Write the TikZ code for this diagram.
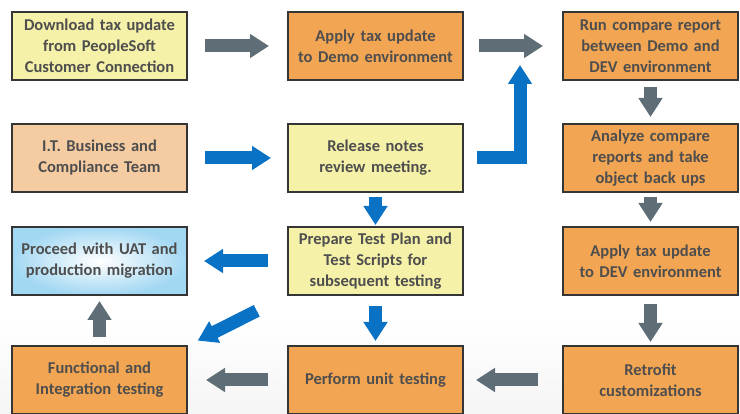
\documentclass[tikz,border=0pt]{standalone}
\usepackage{fontspec}
\setmainfont{Carlito}
\usetikzlibrary{positioning,arrows.meta,calc}

\definecolor{boxline}{HTML}{353535}
\definecolor{txtgray}{HTML}{4E4E4E}
\definecolor{paleyellow}{HTML}{F5F1A8}
\definecolor{taskorange}{HTML}{F2A552}
\definecolor{peach}{HTML}{F5CBA1}
\definecolor{skyblue}{HTML}{A3D8F3}
\definecolor{arrowgray}{HTML}{5F6E76}
\definecolor{arrowblue}{HTML}{0A72C5}

\tikzset{
  box/.style={draw=boxline, line width=1.6pt, outer sep=0pt, inner sep=0pt,
    minimum width=175pt, minimum height=68pt, text width=170pt, align=center,
    text=txtgray, font=\bfseries\fontsize{16.5}{21}\selectfont},
  grayarrow/.style={draw=arrowgray, line width=13pt, -{Triangle[length=19pt,width=23pt]}},
  bluearrow/.style={draw=arrowblue, line width=13pt, -{Triangle[length=19pt,width=23pt]}},
}

\begin{document}
\begin{tikzpicture}
\useasboundingbox (0,0) rectangle (740pt,-414pt);
% faint grey at the foot
\fill[top color=white, bottom color=gray!8] (0,-320pt) rectangle (740pt,-414pt);

\node (download) [box, fill=paleyellow] at (99.5pt,-46pt) {Download tax update\\from PeopleSoft\\Customer Connection};
\node (applydemo) [box, fill=taskorange, right=101pt of download] {Apply tax update\\to Demo environment};
\node (runcompare) [box, fill=taskorange, right=100pt of applydemo] {Run compare report\\between Demo and\\DEV environment};

\node (itteam) [box, fill=peach, below=44pt of download] {I.T. Business and\\Compliance Team};
\node (release) [box, fill=paleyellow, below=44pt of applydemo] {Release notes\\review meeting.};
\node (analyze) [box, fill=taskorange, below=44pt of runcompare] {Analyze compare\\reports and take\\object back ups};

\node (proceed) [box, inner color=white, outer color=skyblue, below=35pt of itteam] {Proceed with UAT and\\production migration};
\node (testplan) [box, fill=paleyellow, below=35pt of release] {Prepare Test Plan and\\Test Scripts for\\subsequent testing};
\node (applydev) [box, fill=taskorange, below=35pt of analyze] {Apply tax update\\to DEV environment};

\node (functional) [box, fill=taskorange, below=51pt of proceed] {Functional and\\Integration testing};
\node (unittest) [box, fill=taskorange, below=51pt of testplan] {Perform unit testing};
\node (retrofit) [box, fill=taskorange, below=51pt of applydev] {Retrofit\\customizations};

\coordinate (join) at ($(applydemo.east)!0.57!(runcompare.west)$);

% grey flow
\draw[grayarrow, shorten <=18pt, shorten >=19pt] (download) -- (applydemo);
\draw[grayarrow, shorten <=16pt, shorten >=20pt] (applydemo) -- (runcompare);
\draw[grayarrow, shorten <=7pt, shorten >=7pt] (runcompare) -- (analyze);
\draw[grayarrow, shorten <=5pt, shorten >=5pt] (analyze) -- (applydev);
\draw[grayarrow, shorten <=9pt, shorten >=4pt] (applydev) -- (retrofit);
\draw[grayarrow, shorten <=25pt, shorten >=13pt] (retrofit) -- (unittest);
\draw[grayarrow, shorten <=20pt, shorten >=19pt] (unittest) -- (functional);
\draw[grayarrow, shorten <=9pt, shorten >=6pt] (functional) -- (proceed);

% blue flow
\draw[bluearrow, shorten <=18pt, shorten >=17pt] (itteam) -- (release);
\draw[bluearrow, miter limit=4, shorten <=14pt, shorten >=19pt] (release.east) -| (join);
\draw[bluearrow, shorten <=5pt, shorten >=2pt] (release) -- (testplan);
\draw[bluearrow, shorten <=11pt, shorten >=5pt] (testplan) -- (unittest);
\draw[bluearrow, shorten <=20pt, shorten >=17pt] (testplan) -- (proceed);
\draw[bluearrow, shorten <=35pt, shorten >=12pt] (testplan.south west) -- (functional.north east);
\end{tikzpicture}
\end{document}
